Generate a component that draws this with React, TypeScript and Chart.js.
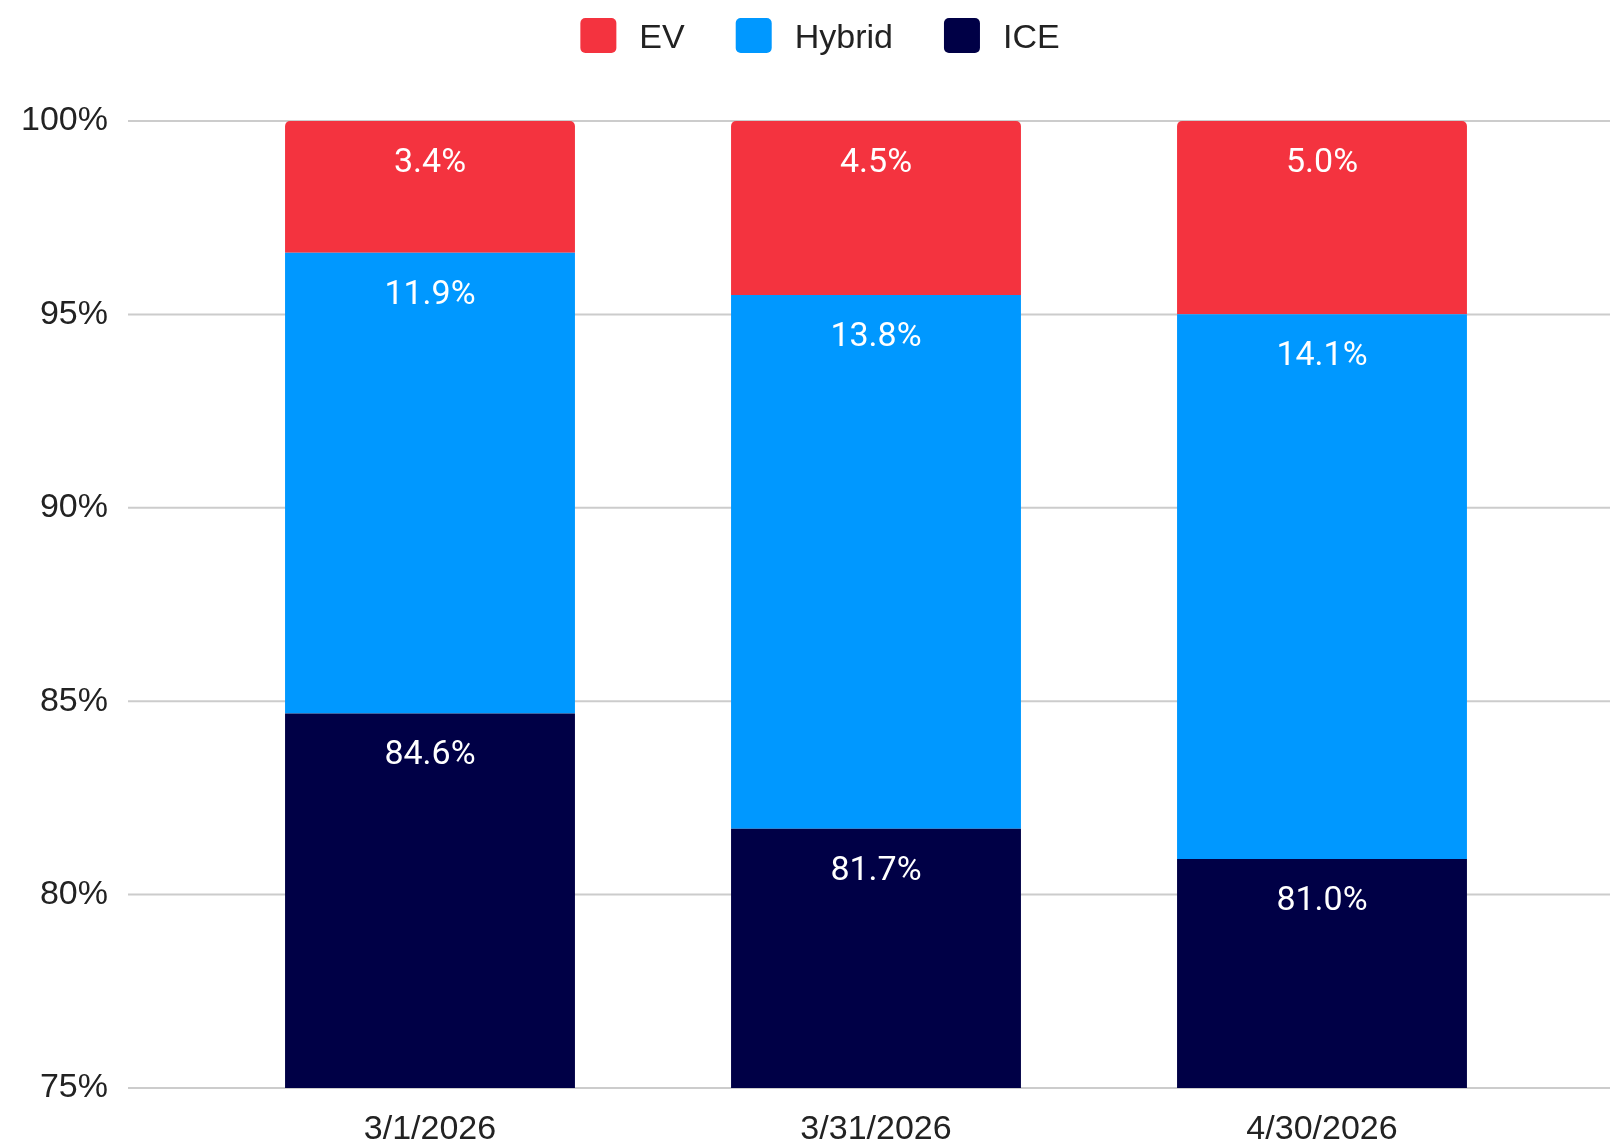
import { useEffect, useRef } from "react";
import { Chart, registerables } from "chart.js";

Chart.register(...registerables);

const categories = ["3/1/2026", "3/31/2026", "4/30/2026"];
const evShare = [3.4, 4.5, 5.0];
const hybridShare = [11.9, 13.8, 14.1];
const iceShare = [84.6, 81.7, 81.0];
const yTicks = [75, 80, 85, 90, 95, 100];
const legendNames = ["EV", "Hybrid", "ICE"];

const COLORS: Record<string, string> = {
  EV: "#F4333F",
  Hybrid: "#0098FF",
  ICE: "#000046",
};

const AXIS_FONT = 'Arial, "Liberation Sans", sans-serif';
const LABEL_FONT = 'Roboto, "Liberation Sans", sans-serif';
const TEXT_COLOR = "#222222";
const LABEL_SIZE = 34;

const totals = categories.map((_, i) => evShare[i] + hybridShare[i] + iceShare[i]);
const normalize = (arr: number[]) => arr.map((v, i) => (v / totals[i]) * 100);

const gridPlugin = {
  id: "fullGrid",
  beforeDatasetsDraw(chart: any) {
    const { ctx } = chart;
    const y = chart.scales.y;
    ctx.save();
    ctx.strokeStyle = "#cccccc";
    ctx.lineWidth = 2;
    yTicks.forEach((v) => {
      const py = y.getPixelForValue(v);
      ctx.beginPath();
      ctx.moveTo(128, py);
      ctx.lineTo(chart.width, py);
      ctx.stroke();
    });
    ctx.restore();
  },
};

const labelPlugin = {
  id: "segmentLabels",
  afterDatasetsDraw(chart: any) {
    const { ctx } = chart;
    ctx.save();
    ctx.font = `${LABEL_SIZE}px ${LABEL_FONT}`;
    ctx.fillStyle = "#ffffff";
    ctx.textAlign = "center";
    ctx.textBaseline = "alphabetic";
    chart.data.datasets.forEach((ds: any, di: number) => {
      const meta = chart.getDatasetMeta(di);
      meta.data.forEach((el: any, i: number) => {
        const raw = ds.rawValues[i];
        const cy = el.y + 39;
        ctx.fillText(`${raw.toFixed(1)}%`, el.x, cy + LABEL_SIZE * 0.355);
      });
    });
    ctx.restore();
  },
};

const legendPlugin = {
  id: "customLegend",
  afterDraw(chart: any) {
    const { ctx } = chart;
    ctx.save();
    ctx.font = `34px ${AXIS_FONT}`;
    const box = 36;
    const gap = 23;
    const spacing = 51;
    const widths = legendNames.map((n) => box + gap + ctx.measureText(n).width);
    const total = widths.reduce((a, b) => a + b, 0) + spacing * (legendNames.length - 1);
    let x = 820 - total / 2;
    const cy = 36;
    legendNames.forEach((n, i) => {
      ctx.fillStyle = COLORS[n];
      ctx.beginPath();
      (ctx as any).roundRect(x, cy - box / 2, box, box - 1, 5);
      ctx.fill();
      ctx.fillStyle = TEXT_COLOR;
      ctx.textAlign = "left";
      ctx.textBaseline = "alphabetic";
      ctx.fillText(n, x + box + gap, cy + 34 * 0.358);
      x += widths[i] + spacing;
    });
    ctx.restore();
  },
};

export default function App() {
  const ref = useRef<HTMLCanvasElement | null>(null);

  useEffect(() => {
    if (!ref.current) return;
    const chart = new Chart(ref.current, {
      type: "bar",
      data: {
        labels: categories,
        datasets: [
          {
            label: "ICE",
            data: normalize(iceShare),
            rawValues: iceShare,
            backgroundColor: COLORS.ICE,
            borderWidth: 0,
          } as any,
          {
            label: "Hybrid",
            data: normalize(hybridShare),
            rawValues: hybridShare,
            backgroundColor: COLORS.Hybrid,
            borderWidth: 0,
          } as any,
          {
            label: "EV",
            data: normalize(evShare),
            rawValues: evShare,
            backgroundColor: COLORS.EV,
            borderWidth: 0,
            borderRadius: { topLeft: 5, topRight: 5, bottomLeft: 0, bottomRight: 0 },
            borderSkipped: false,
          } as any,
        ],
      },
      options: {
        responsive: false,
        animation: false,
        devicePixelRatio: 1,
        layout: { padding: { top: 121, right: 65, bottom: 0, left: 0 } },
        plugins: {
          legend: { display: false },
          tooltip: { enabled: false },
        },
        datasets: {
          bar: { categoryPercentage: 0.65, barPercentage: 1 },
        },
        scales: {
          x: {
            stacked: true,
            grid: { display: false, drawTicks: false },
            border: { display: false },
            ticks: {
              color: TEXT_COLOR,
              padding: 25,
              maxRotation: 0,
              font: { family: AXIS_FONT, size: 34, lineHeight: 1 },
            },
            afterFit(scale: any) {
              scale.height = 58;
            },
          },
          y: {
            stacked: true,
            min: 75,
            max: 100,
            grid: { display: false, drawTicks: false },
            border: { display: false },
            ticks: {
              stepSize: 5,
              color: TEXT_COLOR,
              padding: 99,
              font: { family: AXIS_FONT, size: 34 },
              callback: (v: any) => `${v}%`,
            },
            afterFit(scale: any) {
              scale.width = 207;
              scale.paddingTop = 0;
              scale.paddingBottom = 0;
            },
          },
        },
      } as any,
      plugins: [gridPlugin, labelPlugin, legendPlugin],
    });
    return () => chart.destroy();
  }, []);

  return (
    <div style={{ position: "fixed", left: 0, top: 0, width: 1610, height: 1146, background: "#ffffff" }}>
      <canvas ref={ref} width={1610} height={1146} />
    </div>
  );
}
